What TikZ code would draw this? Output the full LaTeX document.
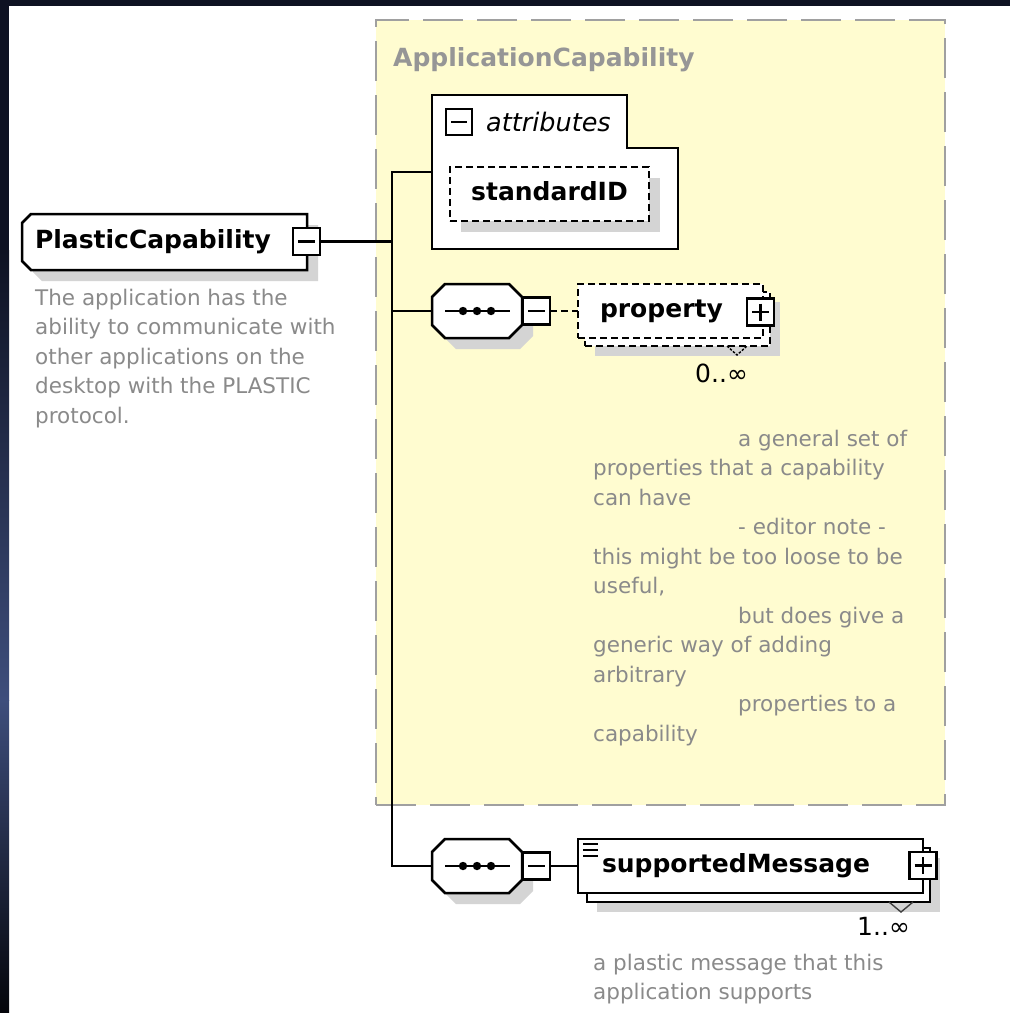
\documentclass[tikz,border=0pt]{standalone}
\usepackage{fontspec}
\setmainfont{DejaVu Sans}
\usetikzlibrary{shadows,calc}
\definecolor{ylw}{RGB}{255,252,208}
\definecolor{dashgr}{RGB}{160,160,160}
\definecolor{shd}{RGB}{212,212,212}
\definecolor{txtgr}{RGB}{138,138,138}
\definecolor{ttlgr}{RGB}{150,150,150}
\definecolor{navyA}{RGB}{14,18,34}
\definecolor{navyB}{RGB}{62,78,124}
\definecolor{navyC}{RGB}{4,5,10}
\pgfdeclarelayer{bg}
\pgfdeclarelayer{shp}
\pgfsetlayers{bg,shp,main}
\newcommand\lblfont{\fontsize{25}{30}\selectfont\bfseries}
\newcommand\descfont{\fontsize{21.5}{29.5}\selectfont}
\newcommand\cardfont{\fontsize{25}{30}\selectfont}
\begin{document}
\begin{tikzpicture}[x=1pt,y=-1pt,
  ln/.style={line width=2.5pt, draw=black},
  shadowed/.style={general shadow={fill=shd, shadow xshift=#1, shadow yshift=-#1}},
  shadowed/.default=11pt,
  anchorbox/.style={draw=none, inner sep=0pt, outer sep=0pt},
  lbl/.style={font=\lblfont, text height=18pt, text depth=5pt},
  elem/.style={ln, fill=white, inner ysep=0pt, outer sep=0pt, minimum height=54pt, lbl},
  dashedelem/.style={elem, dash pattern=on 7pt off 4pt},
  iconbox/.style={draw=black, line width=2.2pt, fill=white, minimum width=27pt, minimum height=27pt, inner sep=0pt, outer sep=0pt},
  minusicon/.style={iconbox, path picture={\draw[line width=2.2pt] ([xshift=5pt]path picture bounding box.west) -- ([xshift=-5pt]path picture bounding box.east);}},
  plusicon/.style={iconbox, path picture={\draw[line width=2.2pt] ([xshift=5pt]path picture bounding box.west) -- ([xshift=-5pt]path picture bounding box.east) ([yshift=-5pt]path picture bounding box.north) -- ([yshift=5pt]path picture bounding box.south);}},
  desc/.style={anchor=north west, inner sep=0pt, align=left, font=\descfont, text=txtgr},
  card/.style={anchor=base west, inner sep=0pt, font=\cardfont}
]
\useasboundingbox (0,0) rectangle (1010,1013);
% ---------- background ----------
\begin{pgfonlayer}{bg}
  \fill[white] (0,0) rectangle (1010,1013);
  \fill[navyA] (0,0) rectangle (1010,6);
  \fill[navyA] (0,0) rectangle (9,250);
  \shade[top color=navyA, bottom color=navyB] (0,250) rectangle (9,700);
  \shade[top color=navyB, bottom color=navyC] (0,700) rectangle (9,1013);
  \node[draw=dashgr, fill=ylw, line width=2.2pt, dash pattern=on 40pt off 14pt,
        minimum width=569pt, minimum height=785pt, inner sep=0pt] (ac) at (660.5,412.5) {};
\end{pgfonlayer}
\node[anchor=base west, inner sep=0pt, font=\lblfont, text=ttlgr] (ttl) at (393,66) {ApplicationCapability};

% ---------- PlasticCapability ----------
\node[anchorbox, minimum width=285pt, minimum height=56pt, text width=259pt, align=left, inner xsep=13pt, lbl] (pc) at (164.5,242) {PlasticCapability};
\begin{pgfonlayer}{shp}
  \draw[ln, fill=white, shadowed] ([xshift=9pt]pc.north west) -- (pc.north east) -- (pc.south east)
     -- ([xshift=9pt]pc.south west) -- ([yshift=9pt]pc.south west) -- ([yshift=-9pt]pc.north west) -- cycle;
\end{pgfonlayer}
\node[minusicon] (pcm) at (306.5,241.5) {};
\node[desc] (d1) at (35,288) {\rule{0pt}{17pt}The application has the\\ability to communicate with\\other applications on the\\desktop with the PLASTIC\\protocol.};

% ---------- attributes ----------
\node[anchorbox, minimum width=246pt, minimum height=154pt] (attr) at (555,172) {};
\begin{pgfonlayer}{shp}
  \draw[ln, fill=white] (attr.north west) -- ([xshift=-51pt]attr.north east) -- ++(0,53) -- ++(51,0)
     -- (attr.south east) -- (attr.south west) -- cycle;
\end{pgfonlayer}
\node[minusicon, minimum width=26pt, minimum height=26pt] (attrm) at (459,122) {};
\node[anchor=base west, inner sep=0pt, font={\fontsize{25.5}{30}\selectfont\itshape}] (attrt) at (486,131) {attributes};
\node[dashedelem, shadowed, minimum width=199pt] (sid) at (549.5,194) {standardID};

% ---------- first sequence + property ----------
\node[anchorbox, minimum width=90pt, minimum height=54pt] (c1) at (477,311) {};
\begin{pgfonlayer}{shp}
  \draw[ln, fill=white, shadowed] ([xshift=13pt]c1.north west) -- ([xshift=-13pt]c1.north east) -- ([yshift=-13pt]c1.north east)
     -- ([yshift=13pt]c1.south east) -- ([xshift=-13pt]c1.south east) -- ([xshift=13pt]c1.south west)
     -- ([yshift=13pt]c1.south west) -- ([yshift=-13pt]c1.north west) -- cycle;
\end{pgfonlayer}
\draw[line width=2.5pt] ([xshift=-32pt]c1.center) -- ([xshift=33pt]c1.center);
\foreach \dx in {-14,0,14} \fill ([xshift=\dx pt]c1.center) circle[radius=4.2pt];
\node[minusicon] (c1m) at (536.5,311) {};

\node[dashedelem, shadowed=10pt, minimum width=185pt] (propb) at (677.5,319) {};
\node[dashedelem, minimum width=185pt, text width=141pt, align=left, inner xsep=22pt] (prop) at (670.5,311) {property};
\node[plusicon] (propp) at (760.5,312) {};
\draw[line width=1.4pt, dash pattern=on 2.5pt off 1.5pt] ([xshift=-43pt]propb.south east) -- ++(10,9) -- ++(10,-9);
\node[card] (card1) at (695,382) {0..∞};
\node[desc] (d2) at (593,429) {\rule{0pt}{17pt}\hspace*{145pt}a general set of\\properties that a capability\\can have\\\hspace*{145pt}- editor note -\\this might be too loose to be\\useful,\\\hspace*{145pt}but does give a\\generic way of adding\\arbitrary\\\hspace*{145pt}properties to a\\capability};

% ---------- second sequence + supportedMessage ----------
\node[anchorbox, minimum width=90pt, minimum height=54pt] (c2) at (477,866) {};
\begin{pgfonlayer}{shp}
  \draw[ln, fill=white, shadowed] ([xshift=13pt]c2.north west) -- ([xshift=-13pt]c2.north east) -- ([yshift=-13pt]c2.north east)
     -- ([yshift=13pt]c2.south east) -- ([xshift=-13pt]c2.south east) -- ([xshift=13pt]c2.south west)
     -- ([yshift=13pt]c2.south west) -- ([yshift=-13pt]c2.north west) -- cycle;
\end{pgfonlayer}
\draw[line width=2.5pt] ([xshift=-32pt]c2.center) -- ([xshift=33pt]c2.center);
\foreach \dx in {-14,0,14} \fill ([xshift=\dx pt]c2.center) circle[radius=4.2pt];
\node[minusicon] (c2m) at (536.5,866) {};

\node[elem, shadowed=10pt, minimum width=343pt] (smb) at (758.5,875) {};
\node[elem, minimum width=345pt, text width=297pt, align=left, inner xsep=24pt] (sm) at (750.5,866) {supportedMessage};
\foreach \dy in {5,11,17} \draw[line width=1.8pt] ([xshift=5pt,yshift=-\dy pt]sm.north west) -- ++(15,0);
\node[plusicon] (smp) at (923,865.5) {};
\draw[line width=1.4pt, black!75] ([xshift=-41pt]smb.south east) -- ++(12,10) -- ++(12,-10);
\node[card] (card2) at (857,935) {1..∞};
\node[desc] (d3) at (593,953) {\rule{0pt}{17pt}a plastic message that this\\application supports};

% ---------- connectors ----------
\coordinate (vt) at (392,172);
\coordinate (vb) at (392,866);
\draw[ln] (pcm.east) -- (pcm.east -| vt);
\draw[ln] (attr.west) -- (vt) -- (vb) -- (c2.west);
\draw[ln] (c1.west -| vt) -- (c1.west);
\draw[ln, dash pattern=on 7pt off 4pt] (c1m.east) -- (prop.west);
\draw[ln] (c2m.east) -- (sm.west);
\end{tikzpicture}
\end{document}
